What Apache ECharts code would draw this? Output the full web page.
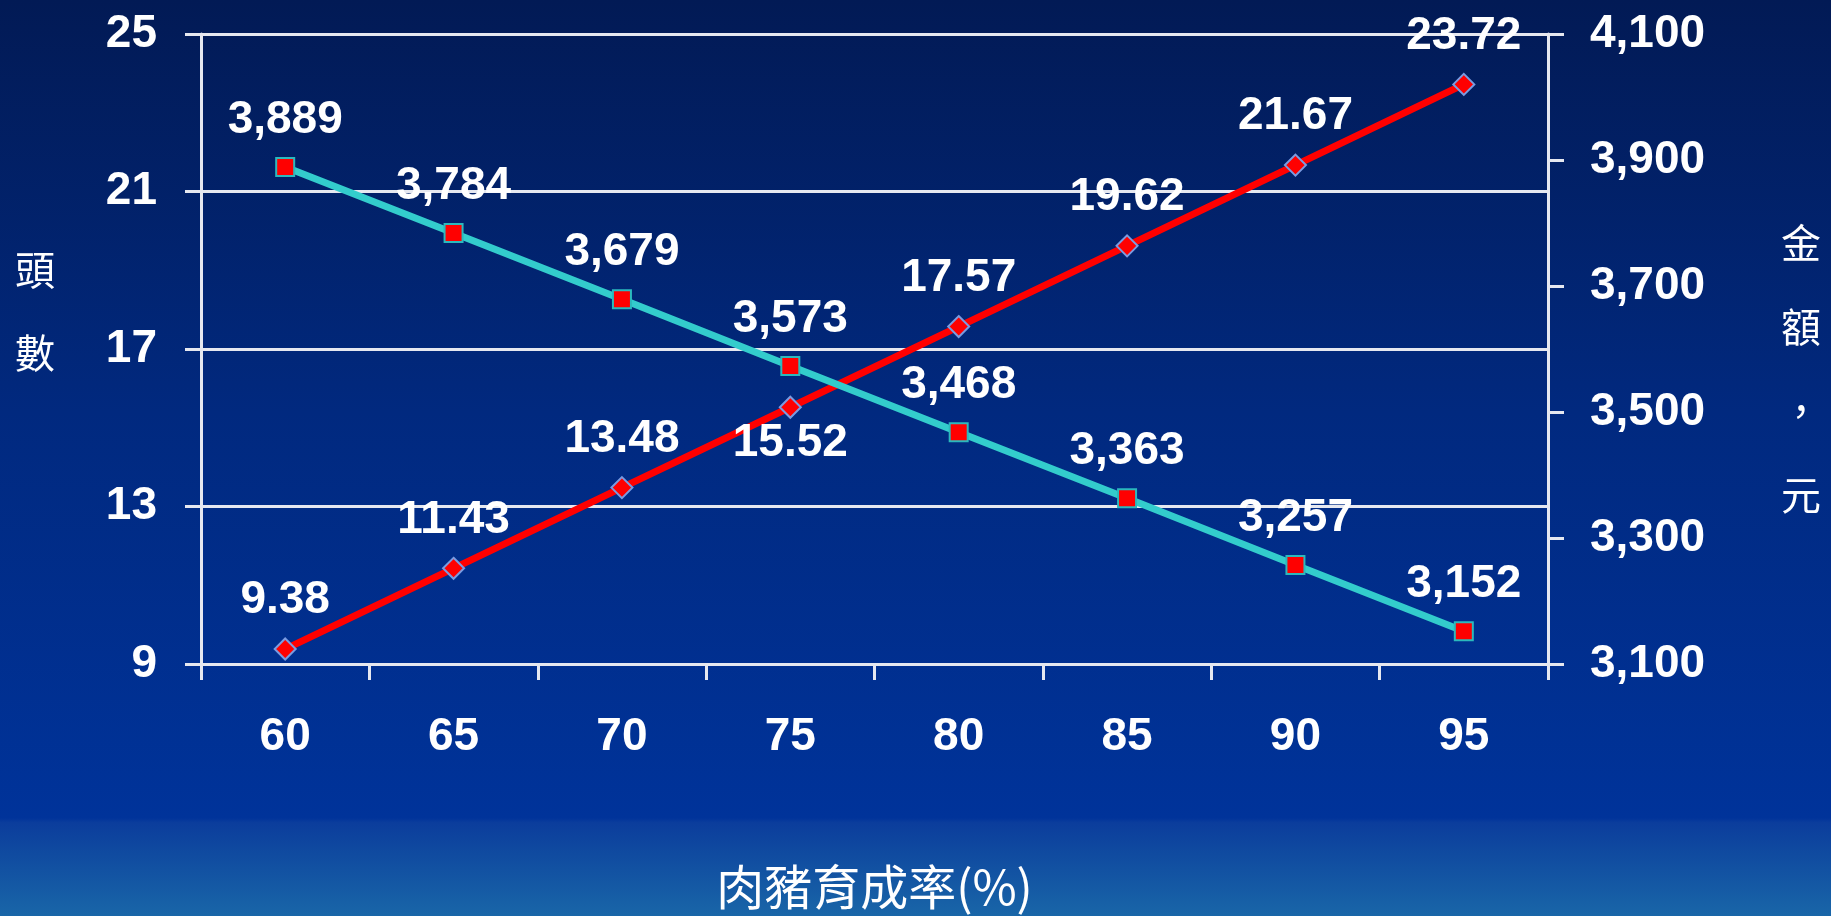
<!DOCTYPE html>
<html>
<head>
<meta charset="utf-8">
<script src="https://cdn.jsdelivr.net/npm/echarts@6/dist/echarts.min.js"></script>
<style>
html,body{margin:0;padding:0;width:1831px;height:916px;overflow:hidden;}
#chart{width:1831px;height:916px;}
</style>
</head>
<body>
<div id="chart"></div>
<script>
const categories = ['60','65','70','75','80','85','90','95'];
const headCount = [9.38, 11.43, 13.48, 15.52, 17.57, 19.62, 21.67, 23.72];
const amount = [3889, 3784, 3679, 3573, 3468, 3363, 3257, 3152];
const leftTicks = [9, 13, 17, 21, 25];
const rightTicks = [3100, 3300, 3500, 3700, 3900, 4100];

const fmt = v => Number(v).toLocaleString('en-US');
const numFont = 'Liberation Sans, Arial, sans-serif';
const cjkFont = 'Noto Sans CJK TC, sans-serif';
const axisColor = '#e6e8f0';

const chart = echarts.init(document.getElementById('chart'));
chart.setOption({
  backgroundColor: {
    type: 'linear', x: 0, y: 0, x2: 0, y2: 1,
    colorStops: [
      {offset: 0, color: '#021a55'},
      {offset: 0.45, color: '#01297f'},
      {offset: 0.893, color: '#00339a'},
      {offset: 0.898, color: '#0b3d9c'},
      {offset: 1, color: '#1966a8'}
    ]
  },
  animation: false,
  grid: {left: 201, top: 34, right: 283, bottom: 250, containLabel: false},
  xAxis: {
    type: 'category',
    data: categories,
    boundaryGap: true,
    name: '肉豬育成率(%)',
    nameLocation: 'middle',
    nameGap: 199,
    nameTextStyle: {color: '#ffffff', fontFamily: cjkFont, fontSize: 48},
    axisLine: {lineStyle: {color: axisColor, width: 3}},
    axisTick: {show: true, length: 16, lineStyle: {color: axisColor, width: 3}},
    axisLabel: {color: '#ffffff', fontFamily: numFont, fontWeight: 'bold', fontSize: 46, margin: 50},
    splitLine: {show: false}
  },
  yAxis: [
    {
      type: 'value',
      min: 9, max: 25,
      name: '頭\n數\n{s| }',
      nameLocation: 'middle',
      nameRotate: 0,
      nameGap: 146,
      nameTextStyle: {color: '#ffffff', fontFamily: cjkFont, fontSize: 40, lineHeight: 83,
        rich: {s: {fontSize: 10, lineHeight: 76}}},
      axisLine: {show: true, lineStyle: {color: axisColor, width: 3}},
      axisTick: {show: true, length: 16, customValues: leftTicks, lineStyle: {color: axisColor, width: 3}},
      axisLabel: {customValues: leftTicks, color: '#ffffff', fontFamily: numFont, fontWeight: 'bold', fontSize: 46, margin: 44},
      splitLine: {show: true, lineStyle: {color: axisColor, width: 3}}
    },
    {
      type: 'value',
      min: 3100, max: 4100,
      position: 'right',
      name: '{s| }\n金\n額\n，\n元',
      nameLocation: 'middle',
      nameRotate: 0,
      nameGap: 233,
      nameTextStyle: {color: '#ffffff', fontFamily: cjkFont, fontSize: 40, lineHeight: 84,
        rich: {s: {fontSize: 10, lineHeight: 40}}},
      axisLine: {show: true, lineStyle: {color: axisColor, width: 3}},
      axisTick: {show: true, length: 16, customValues: rightTicks, lineStyle: {color: axisColor, width: 3}},
      axisLabel: {customValues: rightTicks, color: '#ffffff', fontFamily: numFont, fontWeight: 'bold', fontSize: 46, margin: 42, formatter: fmt},
      splitLine: {show: false}
    }
  ],
  series: [
    {
      name: '頭數',
      type: 'line',
      yAxisIndex: 0,
      data: headCount.map((v, i) => i === 3 ? {value: v, label: {position: 'bottom', distance: 2}} : v),
      symbol: 'diamond',
      symbolSize: 21,
      lineStyle: {color: '#ff0000', width: 7},
      itemStyle: {color: '#ff0000', borderColor: '#7b9be0', borderWidth: 2},
      label: {show: true, position: 'top', distance: 14, color: '#ffffff', fontFamily: numFont, fontWeight: 'bold', fontSize: 46,
        formatter: p => Number(p.value).toFixed(2)},
      z: 3
    },
    {
      name: '金額',
      type: 'line',
      yAxisIndex: 1,
      data: amount,
      symbol: 'rect',
      symbolSize: 18,
      lineStyle: {color: '#33cccc', width: 7},
      itemStyle: {color: '#ff0000', borderColor: '#2bb9bd', borderWidth: 2},
      label: {show: true, position: 'top', distance: 14, color: '#ffffff', fontFamily: numFont, fontWeight: 'bold', fontSize: 46,
        formatter: p => fmt(p.value)},
      z: 4
    }
  ]
});
</script>
</body>
</html>
